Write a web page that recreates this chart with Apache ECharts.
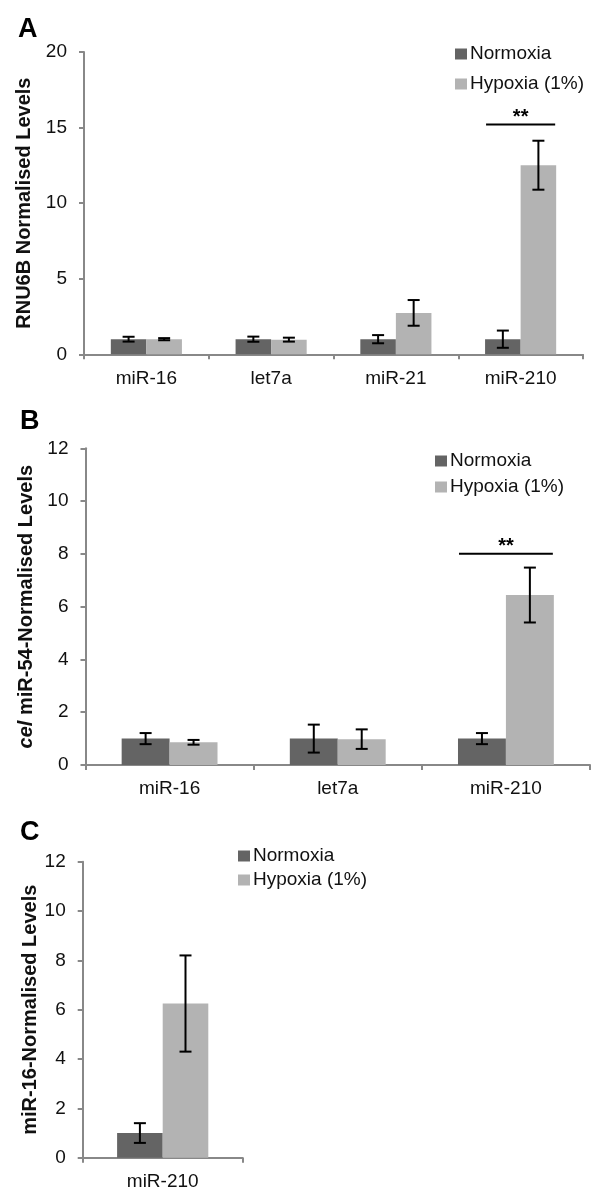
<!DOCTYPE html>
<html>
<head>
<meta charset="utf-8">
<script src="https://cdn.jsdelivr.net/npm/echarts@6/dist/echarts.min.js"></script>
<style>html,body{margin:0;padding:0;background:#fff}#c{width:600px;height:1200px}</style>
</head>
<body>
<div id="c"></div>
<script>
// ---- data ----
const seriesNames = ['Normoxia', 'Hypoxia (1%)'];

const catsA = ['miR-16', 'let7a', 'miR-21', 'miR-210'];
const normA = [1.0, 1.0, 1.0, 1.0];
const normErrA = [0.16, 0.17, 0.27, 0.57];
const hypA = [1.0, 0.97, 2.74, 12.51];
const hypErrA = [0.07, 0.13, 0.85, 1.62];
const sigA = [[3, 15.2]];
const yMaxA = 20, yStepA = 5;

const catsB = ['miR-16', 'let7a', 'miR-210'];
const normB = [1.0, 1.0, 1.0];
const normErrB = [0.21, 0.53, 0.21];
const hypB = [0.86, 0.98, 6.44];
const hypErrB = [0.09, 0.37, 1.04];
const sigB = [[2, 8.0]];
const yMaxB = 12, yStepB = 2;

const catsC = ['miR-210'];
const normC = [1.0];
const normErrC = [0.4];
const hypC = [6.25];
const hypErrC = [1.95];
const yMaxC = 12, yStepC = 2;

const yNameA = 'RNU6B Normalised Levels';
const yNameB = '{i|cel} miR-54-Normalised Levels';
const yNameC = 'miR-16-Normalised Levels';
const sigText = '**';

// ---- style ----
const FONT = 'Liberation Sans, Arial, sans-serif';
const DARK = '#646464';
const LIGHT = '#b3b3b3';
const AXIS = '#888888';
const GAP = 0.43;

const grids = [
  {left: 84, width: 499, top: 52, height: 302.3},
  {left: 85.5, width: 504.5, top: 448.3, height: 316.7},
  {left: 82.7, width: 160, top: 861.7, height: 296}
];

function xAxisFor(i, cats, margin) {
  return {
    type: 'category', gridIndex: i, data: cats,
    axisLine: {lineStyle: {color: AXIS, width: 2}},
    axisTick: {show: true, length: 5, lineStyle: {color: AXIS, width: 2}},
    axisLabel: {color: '#111', fontSize: 19, fontFamily: FONT, margin: margin}
  };
}
function yAxisFor(i, max, step, name, gap, rich) {
  return {
    type: 'value', gridIndex: i, min: 0, max: max, interval: step,
    name: name, nameLocation: 'middle', nameGap: gap, nameRotate: 90,
    nameTextStyle: {fontSize: 20, fontWeight: 'bold', color: '#111', fontFamily: FONT, rich: rich || {}},
    axisLine: {show: true, lineStyle: {color: AXIS, width: 2}},
    axisTick: {show: true, length: 5, lineStyle: {color: AXIS, width: 2}},
    splitLine: {show: false},
    axisLabel: {color: '#111', fontSize: 19, fontFamily: FONT, margin: 17}
  };
}

function errData(vals, errs, side) {
  return vals.map((v, k) => [k, v, errs[k], side]);
}

function errSeries(i, vals, errs, side) {
  return {
    type: 'custom', xAxisIndex: i, yAxisIndex: i, z: 5, silent: true,
    data: errData(vals, errs, side),
    renderItem: function (params, api) {
      const ci = api.value(0), v = api.value(1), e = api.value(2), s = api.value(3);
      const c = api.coord([ci, v]);
      const band = api.size([1, 0])[0];
      const bw = band * (1 - GAP) / 2;
      const x = c[0] + s * bw / 2;
      const yt = api.coord([ci, v + e])[1];
      const yb = api.coord([ci, v - e])[1];
      const cap = 6;
      const st = {stroke: '#000', lineWidth: 2};
      return {type: 'group', children: [
        {type: 'line', shape: {x1: x, y1: yt, x2: x, y2: yb}, style: st},
        {type: 'line', shape: {x1: x - cap, y1: yt, x2: x + cap, y2: yt}, style: st},
        {type: 'line', shape: {x1: x - cap, y1: yb, x2: x + cap, y2: yb}, style: st}
      ]};
    }
  };
}

function sigSeries(i, data) {
  return {
    type: 'custom', xAxisIndex: i, yAxisIndex: i, z: 5, silent: true,
    data: data,
    renderItem: function (params, api) {
      const ci = api.value(0), v = api.value(1);
      const c = api.coord([ci, v]);
      const band = api.size([1, 0])[0];
      const bw = band * (1 - GAP) / 2;
      const half = bw - 1;
      return {type: 'group', children: [
        {type: 'line', shape: {x1: c[0] - half, y1: c[1], x2: c[0] + half, y2: c[1]}, style: {stroke: '#000', lineWidth: 2}},
        {type: 'text', x: c[0], y: c[1] - 7, style: {text: sigText, fill: '#000', fontSize: 20, fontWeight: 'bold', fontFamily: FONT, align: 'center', verticalAlign: 'middle'}}
      ]};
    }
  };
}

function barSeries(i, name, vals, color) {
  return {
    type: 'bar', name: name, xAxisIndex: i, yAxisIndex: i, data: vals,
    barGap: '0%', barCategoryGap: (GAP * 100) + '%',
    itemStyle: {color: color}, silent: true
  };
}

function legendFor(left, top, gap, iw) {
  return {
    orient: 'vertical', left: left, top: top, itemGap: gap,
    itemWidth: iw, itemHeight: 11, icon: 'rect', selectedMode: false,
    data: seriesNames,
    textStyle: {fontSize: 19, color: '#111', fontFamily: FONT, lineHeight: 20, padding: [0, 0, 0, -2]}
  };
}

const chart = echarts.init(document.getElementById('c'), null, {renderer: 'canvas'});
chart.setOption({
  animation: false,
  textStyle: {fontFamily: FONT},
  grid: grids,
  xAxis: [xAxisFor(0, catsA, 15), xAxisFor(1, catsB, 14), xAxisFor(2, catsC, 15)],
  yAxis: [
    yAxisFor(0, yMaxA, yStepA, yNameA, 42),
    yAxisFor(1, yMaxB, yStepB, yNameB, 43, {i: {fontStyle: 'italic', fontWeight: 'bold', fontSize: 20, fontFamily: FONT, color: '#111'}}),
    yAxisFor(2, yMaxC, yStepC, yNameC, 42)
  ],
  legend: [legendFor(450, 39, 10, 12), legendFor(430, 446, 6, 12), legendFor(233, 841, 4, 12)],
  series: [
    barSeries(0, seriesNames[0], normA, DARK),
    barSeries(0, seriesNames[1], hypA, LIGHT),
    errSeries(0, normA, normErrA, -1),
    errSeries(0, hypA, hypErrA, 1),
    sigSeries(0, sigA),
    barSeries(1, seriesNames[0], normB, DARK),
    barSeries(1, seriesNames[1], hypB, LIGHT),
    errSeries(1, normB, normErrB, -1),
    errSeries(1, hypB, hypErrB, 1),
    sigSeries(1, sigB),
    barSeries(2, seriesNames[0], normC, DARK),
    barSeries(2, seriesNames[1], hypC, LIGHT),
    errSeries(2, normC, normErrC, -1),
    errSeries(2, hypC, hypErrC, 1)
  ],
  graphic: [
    {type: 'text', x: 18, y: 30, style: {text: 'A', fontSize: 27, fontWeight: 'bold', fontFamily: FONT, fill: '#000', verticalAlign: 'middle'}},
    {type: 'text', x: 20, y: 422, style: {text: 'B', fontSize: 27, fontWeight: 'bold', fontFamily: FONT, fill: '#000', verticalAlign: 'middle'}},
    {type: 'text', x: 20, y: 833, style: {text: 'C', fontSize: 27, fontWeight: 'bold', fontFamily: FONT, fill: '#000', verticalAlign: 'middle'}}
  ]
});
</script>
</body>
</html>
